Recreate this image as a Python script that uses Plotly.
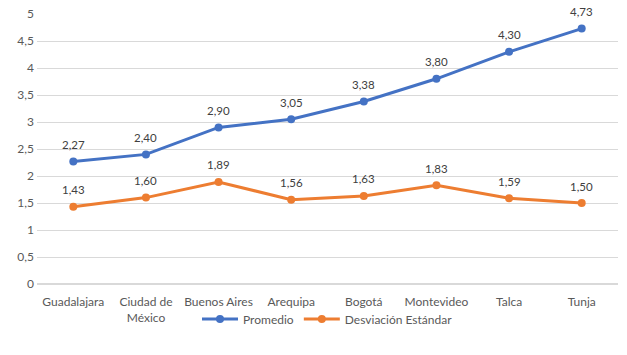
import plotly.graph_objects as go

categories = ["Guadalajara", "Ciudad de<br>México", "Buenos Aires", "Arequipa", "Bogotá", "Montevideo", "Talca", "Tunja"]
promedio = [2.27, 2.40, 2.90, 3.05, 3.38, 3.80, 4.30, 4.73]
desviacion = [1.43, 1.60, 1.89, 1.56, 1.63, 1.83, 1.59, 1.50]
y_ticks = [0, 0.5, 1, 1.5, 2, 2.5, 3, 3.5, 4, 4.5, 5]

FAMILY = "Lato, Open Sans, sans-serif"
font = dict(family=FAMILY, size=12, color="#595959")

fig = go.Figure()
for name, vals, color in [("Promedio", promedio, "#4472C4"),
                          ("Desviación Estándar", desviacion, "#ED7D31")]:
    fig.add_trace(go.Scatter(
        x=categories, y=vals, name=name, mode="lines+markers",
        line=dict(color=color, width=3), marker=dict(color=color, size=8),
    ))
    for c, v in zip(categories, vals):
        fig.add_annotation(x=c, y=v, text=f"{v:.2f}".replace(".", ","), showarrow=False,
                           yshift=17, font=dict(family=FAMILY, size=11.5, color="#404040"))

fig.update_layout(
    width=627, height=355,
    margin=dict(l=37, r=9, t=14, b=71, autoexpand=False),
    paper_bgcolor="white", plot_bgcolor="white",
    font=font, separators=",.",
    showlegend=True,
    legend=dict(orientation="h", x=0.5, xanchor="center", y=-0.13, yanchor="middle",
                bgcolor="rgba(0,0,0,0)",
                font=dict(family=FAMILY, size=12, color="#595959"),
                itemwidth=36, tracegroupgap=0),
    xaxis=dict(range=[-0.5, 7.5], showgrid=False, showline=False, ticks="", tickfont=font,
               automargin=False, ticklabelstandoff=9),
    yaxis=dict(range=[0, 5], tickvals=y_ticks, showgrid=True, gridcolor="#D9D9D9",
               gridwidth=1, zeroline=True, zerolinecolor="#D9D9D9", showline=False,
               ticks="", tickfont=font, ticklabelstandoff=2, automargin=False,
               ticklabeloverflow="allow"),
)
fig.write_html("out.html", config={"displayModeBar": False},
               post_script="document.body.style.margin='0';")
